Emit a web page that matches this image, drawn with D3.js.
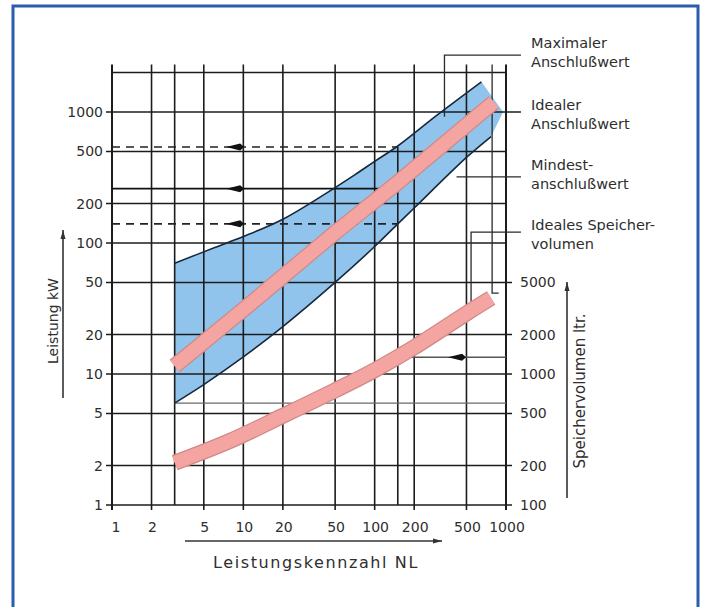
<!DOCTYPE html>
<html>
<head>
<meta charset="utf-8">
<script src="https://cdn.jsdelivr.net/npm/d3@7"></script>
<style>
  body { margin: 0; background: #fff; }
  svg text { font-family: "DejaVu Sans", sans-serif; fill: #2e2e2e; }
</style>
</head>
<body>
<div id="chart"></div>
<script>
// Achsen: Leistungskennzahl NL (x), Leistung kW (links), Speichervolumen ltr. (rechts)
var xTicks = [1, 2, 5, 10, 20, 50, 100, 200, 500, 1000];
var xGrid = [1, 2, 3, 5, 10, 20, 50, 100, 150, 200, 500, 1000];
var yTicks = [1, 2, 5, 10, 20, 50, 100, 200, 500, 1000];
var yGrid = [1, 2, 5, 10, 20, 50, 100, 200, 500, 1000, 2000];
var speicherTicks = [100, 200, 500, 1000, 2000, 5000];

// Band zwischen maximalem und minimalem Anschlusswert [NL, kW]
var maxWert = [[3, 70], [6, 92], [10, 112], [20, 152], [40, 230], [70, 330], [100, 420], [150, 550], [300, 950], [650, 1700]];
var minWert = [[3, 6], [5, 8.3], [10, 13.5], [20, 23], [50, 50], [100, 94], [150, 140], [200, 185], [500, 450], [770, 650]];
var bandSpitze = [[950, 1000]];
// idealer Anschlusswert [NL, kW]
var idealWert = [[3, 11.5], [10, 31], [50, 120], [150, 290], [810, 1190]];
// ideales Speichervolumen [NL, ltr]
var speicherWert = [[3, 210], [8, 310], [20, 480], [50, 750], [100, 1070], [200, 1600], [500, 2900], [770, 3800]];

// Ablesebeispiel bei NL = 150
var ableseNL = 150;
var ableseKW = [540, 260, 140];
var ableseDash = [true, false, true];
var ableseSpeicher = 1340;
var grenzeKW = 6;

var texte = [
  ["Maximaler", "Anschlußwert"],
  ["Idealer", "Anschlußwert"],
  ["Mindest-", "anschlußwert"],
  ["Ideales Speicher-", "volumen"]
];

var width = 703, height = 607;

var svg = d3.select("#chart").append("svg")
    .attr("width", width)
    .attr("height", height);

// Rahmen
svg.append("rect")
    .attr("x", 13).attr("y", 6)
    .attr("width", 685).attr("height", 620)
    .attr("fill", "#fff")
    .attr("stroke", "#2b5cae")
    .attr("stroke-width", 3);

var x = d3.scaleLog().domain([1, 1000]).range([112, 506]);
var y = d3.scaleLog().domain([1, 1000]).range([505, 112]);
var yS = d3.scaleLog().domain([100, 100000]).range([505, 112]);

var line = d3.line().x(d => x(d[0])).y(d => y(d[1]));
var curve = d3.line().x(d => x(d[0])).y(d => y(d[1])).curve(d3.curveCatmullRom);
var lineS = d3.line().x(d => x(d[0])).y(d => yS(d[1])).curve(d3.curveCatmullRom);
var gridColor = "#1c1c1c";

// blaues Band
var bandPfad = curve(maxWert) + "L" + x(bandSpitze[0][0]) + "," + y(bandSpitze[0][1]) +
    curve(minWert.slice().reverse()).replace(/^M/, "L") + "Z";
svg.append("path")
    .attr("d", bandPfad)
    .attr("fill", "#90c4ec");

// horizontale Gitterlinien
svg.append("g").selectAll("line")
    .data(yGrid)
    .join("line")
    .attr("x1", d => d == 2000 ? x(1) : x(1) - 6)
    .attr("x2", d => d == 1000 ? x(1300) : (d <= 50 ? x(1000) + 6 : x(1000)))
    .attr("y1", d => y(d)).attr("y2", d => y(d))
    .attr("stroke", gridColor)
    .attr("stroke-width", 1.6);

// vertikale Gitterlinien
svg.append("g").selectAll("line")
    .data(xGrid)
    .join("line")
    .attr("x1", d => x(d)).attr("x2", d => x(d))
    .attr("y1", d => d == ableseNL ? y(ableseKW[0]) : y(2300))
    .attr("y2", d => xTicks.indexOf(d) >= 0 ? y(1) + 5 : y(1))
    .attr("stroke", gridColor)
    .attr("stroke-width", d => (d == 1 || d == 1000) ? 2 : 1.6);

// Linie bei 6 kW
svg.append("line")
    .attr("x1", x(3)).attr("x2", x(1000))
    .attr("y1", y(grenzeKW)).attr("y2", y(grenzeKW))
    .attr("stroke", "#6a6a6a").attr("stroke-width", 1.3);

// Hinweislinien zu den Beschriftungen
var leaders = [
  [[340, 920], [340, 2720], [1300, 2720]],
  [[420, 320], [1300, 320]],
  [[1300, 121], [542, 121], [542, 33]],
  [[784, 2300], [784, 41.5], [880, 41.5]]
];
svg.append("g").selectAll("path")
    .data(leaders)
    .join("path")
    .attr("d", line)
    .attr("fill", "none")
    .attr("stroke", "#2a2a2a")
    .attr("stroke-width", 1.3);

// Ablesebeispiel
svg.append("g").selectAll("line")
    .data(ableseKW)
    .join("line")
    .attr("x1", x(1)).attr("x2", x(ableseNL))
    .attr("y1", d => y(d)).attr("y2", d => y(d))
    .attr("stroke", (d, i) => ableseDash[i] ? "#222" : "#111")
    .attr("stroke-width", 1.6)
    .attr("stroke-dasharray", (d, i) => ableseDash[i] ? "8,6" : null);

svg.append("line")
    .attr("x1", x(ableseNL)).attr("x2", x(1000))
    .attr("y1", yS(ableseSpeicher)).attr("y2", yS(ableseSpeicher))
    .attr("stroke", "#555").attr("stroke-width", 1.5);

function arrowLeft(px, py) {
  return "M" + px + "," + py + "L" + (px + 14) + "," + (py - 3.5) +
         "L" + (px + 18) + "," + py + "L" + (px + 14) + "," + (py + 3.5) + "Z";
}
svg.append("g").selectAll("path")
    .data(ableseKW)
    .join("path")
    .attr("d", d => arrowLeft(x(7.4), y(d)))
    .attr("fill", "#111");
svg.append("path")
    .attr("d", arrowLeft(x(362), yS(ableseSpeicher)))
    .attr("fill", "#111");

// rosa Baender
function pinkBand(d) {
  svg.append("path").attr("d", d)
      .attr("fill", "none").attr("stroke", "#cf8a88").attr("stroke-width", 16);
  svg.append("path").attr("d", d)
      .attr("fill", "none").attr("stroke", "#f4a5a1").attr("stroke-width", 13.5);
}
pinkBand(line(idealWert));
pinkBand(lineS(speicherWert));

// Bandgrenzen
svg.append("path").attr("d", curve(maxWert))
    .attr("fill", "none").attr("stroke", "#17283a").attr("stroke-width", 1.6);
svg.append("path").attr("d", curve(minWert))
    .attr("fill", "none").attr("stroke", "#17283a").attr("stroke-width", 1.6);

// Achsenbeschriftungen
svg.append("g").selectAll("text")
    .data(yTicks)
    .join("text")
    .attr("x", 103).attr("y", d => y(d))
    .attr("text-anchor", "end")
    .attr("dominant-baseline", "central")
    .attr("font-size", 14)
    .text(d => d);

svg.append("g").selectAll("text")
    .data(speicherTicks)
    .join("text")
    .attr("x", 520).attr("y", d => yS(d))
    .attr("dominant-baseline", "central")
    .attr("font-size", 14)
    .text(d => d);

svg.append("g").selectAll("text")
    .data(xTicks)
    .join("text")
    .attr("x", d => x(d) + (d == 1 ? 4 : 1)).attr("y", 527)
    .attr("text-anchor", "middle")
    .attr("dominant-baseline", "central")
    .attr("font-size", 14)
    .text(d => d);

svg.append("text")
    .attr("x", 316).attr("y", 562)
    .attr("text-anchor", "middle")
    .attr("dominant-baseline", "central")
    .attr("font-size", 16)
    .attr("letter-spacing", 1.6)
    .text("Leistungskennzahl  NL");

svg.append("text")
    .attr("transform", "translate(53,321) rotate(-90)")
    .attr("text-anchor", "middle")
    .attr("dominant-baseline", "central")
    .attr("font-size", 14)
    .text("Leistung kW");

svg.append("text")
    .attr("transform", "translate(580,391) rotate(-90)")
    .attr("text-anchor", "middle")
    .attr("dominant-baseline", "central")
    .attr("font-size", 15)
    .text("Speichervolumen ltr.");

// Pfeile an den Achsentiteln
function arrowLine(x1, y1, x2, y2) {
  svg.append("line")
      .attr("x1", x1).attr("y1", y1).attr("x2", x2).attr("y2", y2)
      .attr("stroke", "#333").attr("stroke-width", 1.6);
  var a = Math.atan2(y2 - y1, x2 - x1);
  var p = [[x2, y2],
           [x2 - 9 * Math.cos(a) + 2.5 * Math.sin(a), y2 - 9 * Math.sin(a) - 2.5 * Math.cos(a)],
           [x2 - 9 * Math.cos(a) - 2.5 * Math.sin(a), y2 - 9 * Math.sin(a) + 2.5 * Math.cos(a)]];
  svg.append("path").attr("d", "M" + p.join("L") + "Z").attr("fill", "#333");
}
arrowLine(63, 398, 63, 230);
arrowLine(567, 498, 567, 282);
arrowLine(185, 541, 442, 541);

// Beschriftungen rechts
var textY = [43, 105, 165, 225];
svg.append("g").selectAll("text")
    .data(texte)
    .join("text")
    .attr("x", 531)
    .attr("y", (d, i) => textY[i])
    .attr("font-size", 14.5)
    .attr("dominant-baseline", "central")
    .selectAll("tspan")
    .data(d => d)
    .join("tspan")
    .attr("x", 531)
    .attr("dy", (d, i) => i == 0 ? 0 : 19)
    .text(d => d);
</script>
</body>
</html>
